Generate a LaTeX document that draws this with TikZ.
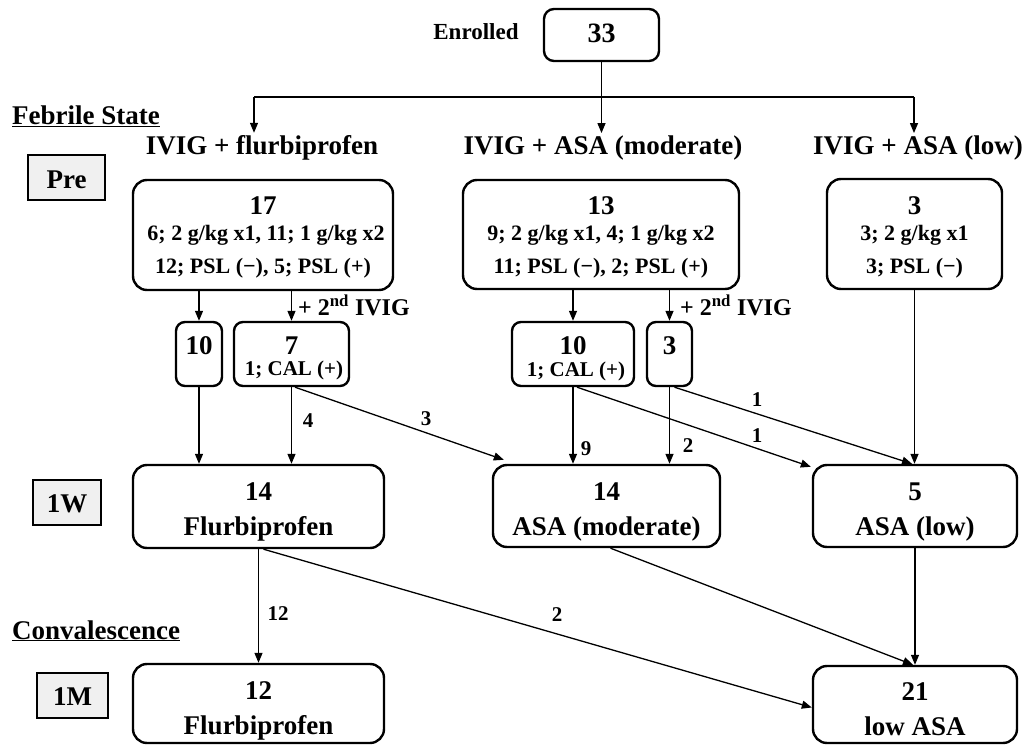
\documentclass[tikz,border=0pt]{standalone}
\usepackage{fontspec}
\setmainfont{Liberation Serif}
\usetikzlibrary{arrows.meta}
\newcommand\szL{\fontsize{27}{30}\selectfont}
\newcommand\szM{\fontsize{22}{26}\selectfont}
\newcommand\szS{\fontsize{21}{24}\selectfont}
\newcommand\szE{\fontsize{23}{26}\selectfont}
\begin{document}
\begin{tikzpicture}[x=1pt,y=-1pt,font=\bfseries,
  box/.style={draw,line width=2.4pt,rounded corners=14pt,inner sep=0pt},
  sbox/.style={draw,line width=2.4pt,rounded corners=9pt,inner sep=0pt},
  tag/.style={draw,line width=2pt,fill=gray!12,inner sep=0pt},
  txt/.style={anchor=base,inner sep=0pt},
  head/.style={anchor=base,inner sep=3pt},
  arr/.style={-{Triangle[length=10pt,width=8pt]},line width=1.3pt},
  ln/.style={line width=1.3pt}]
\useasboundingbox (0,0) rectangle (1026,746);

% ---- top
\node[txt] (enr) at (476,40) {\szE Enrolled};
\node[sbox,rounded corners=10pt,minimum width=115pt,minimum height=52pt] (b33) at (601.5,35) {};
\node[txt] (t33) at (601.5,43) {\fontsize{28}{30}\selectfont 33};
\coordinate (split) at (601.5,97);
\coordinate (j1) at (254,97);
\coordinate (j3) at (914,97);

\node[txt,anchor=base west] (fs) at (12,125) {\szL\underline{Febrile State}};
\node[head] (h1) at (262,155) {\szL IVIG + flurbiprofen};
\node[head] (h2) at (603,155) {\szL IVIG + ASA (moderate)};
\node[head] (h3) at (918,155) {\szL IVIG + ASA (low)};

\draw[ln] (b33.south) -- (split);
\draw[ln] (j1) -- (j3);
\draw[arr] (j1) -- (j1 |- h1.north);
\draw[arr] (split) -- (split |- h2.north);
\draw[arr] (j3) -- (j3 |- h3.north);

% ---- row labels
\node[tag,minimum width=77pt,minimum height=45pt] (pre) at (66.5,177.5) {};
\node[txt] at (66.5,189) {\szL Pre};
\node[tag,minimum width=68pt,minimum height=45pt] (w1) at (67,502.5) {};
\node[txt] at (67,512) {\szL 1W};
\node[tag,minimum width=71pt,minimum height=45pt] (m1) at (72.5,695.5) {};
\node[txt] at (72.5,705) {\szL 1M};
\node[txt,anchor=base west] (conv) at (12,639) {\szL\underline{Convalescence}};

% ---- Pre boxes
\node[box,minimum width=260pt,minimum height=110pt] (b17) at (263,235) {};
\node[txt] at (263,215) {\szL 17};
\node[txt] at (266,241) {\szM 6; 2 g/kg x1, 11; 1 g/kg x2};
\node[txt] at (263,274) {\szM 12; PSL (−), 5; PSL (+)};

\node[box,minimum width=276pt,minimum height=109pt] (b13) at (601,234.5) {};
\node[txt] at (601,215) {\szL 13};
\node[txt] at (601,241) {\szM 9; 2 g/kg x1, 4; 1 g/kg x2};
\node[txt] at (601,274) {\szM 11; PSL (−), 2; PSL (+)};

\node[box,minimum width=175pt,minimum height=110pt] (b3l) at (914.5,234) {};
\node[txt] at (914.5,215) {\szL 3};
\node[txt] at (914.5,241) {\szM 3; 2 g/kg x1};
\node[txt] at (914.5,274) {\szM 3; PSL (−)};

% ---- second-step boxes
\node[sbox,minimum width=46pt,minimum height=64pt] (b10a) at (199,354) {};
\node[txt] at (199,354) {\szL 10};
\node[sbox,minimum width=115pt,minimum height=64pt] (b7) at (291.5,354) {};
\node[txt] at (291.5,354) {\szL 7};
\node[txt] at (294,375) {\szS 1; CAL (+)};
\node[sbox,minimum width=122pt,minimum height=64pt] (b10b) at (573,354) {};
\node[txt] at (573,354) {\szL 10};
\node[txt] at (576,376) {\szS 1; CAL (+)};
\node[sbox,minimum width=45pt,minimum height=64pt] (b3s) at (669.5,354) {};
\node[txt] at (669.5,354) {\szL 3};

\node[txt,anchor=base west] (iv1) at (298,316) {\fontsize{24}{26}\selectfont + 2\textsuperscript{nd} IVIG};
\node[txt,anchor=base west] (iv2) at (680,316) {\fontsize{24}{26}\selectfont + 2\textsuperscript{nd} IVIG};

\draw[arr] (b17.south -| b10a) -- (b10a.north);
\draw[arr] (b17.south -| b7) -- (b7.north);
\draw[arr] (b13.south -| b10b) -- (b10b.north);
\draw[arr] (b13.south -| b3s) -- (b3s.north);

% ---- 1W boxes
\node[box,minimum width=251pt,minimum height=83pt] (b14f) at (258.5,506.5) {};
\node[txt] at (258.5,500) {\szL 14};
\node[txt] at (258.5,535) {\szL Flurbiprofen};
\node[box,minimum width=227pt,minimum height=82pt] (b14a) at (606.5,506) {};
\node[txt] at (606.5,500) {\szL 14};
\node[txt] at (606.5,535) {\szL ASA (moderate)};
\node[box,minimum width=204pt,minimum height=82pt] (b5) at (915,506) {};
\node[txt] at (915,500) {\szL 5};
\node[txt] at (915,535) {\szL ASA (low)};

\draw[arr] (b10a.south) -- (b10a.south |- b14f.north);
\draw[arr] (b7.south) -- (b7.south |- b14f.north);
\draw[arr] ([xshift=3.5pt]b7.south) -- ([xshift=12pt,yshift=4pt]b14a.north west);
\draw[arr] (b10b.south) -- (b10b.south |- b14a.north);
\draw[arr] (b3s.south) -- (b3s.south |- b14a.north);
\draw[arr] ([xshift=4pt]b10b.south) -- ([xshift=-1pt,yshift=-3pt]b5.north west);
\draw[arr] ([xshift=5pt]b3s.south) -- ([xshift=-3pt]b5.north);
\draw[arr] (b3l.south) -- (b3l.south |- b5.north);

\node[txt] at (308,427) {\szS 4};
\node[txt] at (426,425) {\szS 3};
\node[txt] at (586,455) {\szS 9};
\node[txt] at (688,452) {\szS 2};
\node[txt] at (757,406) {\szS 1};
\node[txt] at (757,442) {\szS 1};

% ---- 1M boxes
\node[box,minimum width=251pt,minimum height=79pt] (b12f) at (258.5,703.5) {};
\node[txt] at (258.5,699) {\szL 12};
\node[txt] at (258.5,734) {\szL Flurbiprofen};
\node[box,minimum width=204pt,minimum height=77pt] (b21) at (915,704.5) {};
\node[txt] at (915,700) {\szL 21};
\node[txt] at (915,735) {\szL low ASA};

\draw[arr] (b14f.south) -- (b12f.north);
\draw[arr] ([xshift=5pt]b14f.south) -- ([yshift=-3pt]b21.west);
\draw[arr] ([xshift=4pt]b14a.south) -- ([xshift=-2pt]b21.north);
\draw[arr] (b5.south) -- (b21.north);

\node[txt] at (278,620) {\szS 12};
\node[txt] at (557,621) {\szS 2};
\end{tikzpicture}
\end{document}
